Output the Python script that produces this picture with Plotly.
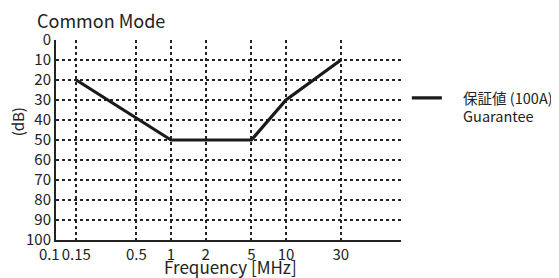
import plotly.graph_objects as go

freq_mhz = [0.15, 1, 5, 10, 30]
level_db = [20, 50, 50, 30, 10]
x_tickvals = [0.1, 0.15, 0.5, 1, 2, 5, 10, 30]
x_ticktext = ["0.1\u00a0\u00a0\u00a0\u00a0", "0.15", "0.5", "1", "2", "5", "10", "30"]
y_tickvals = [0, 10, 20, 30, 40, 50, 60, 70, 80, 90, 100]
series_name = "\u00a0\u00a0\u00a0\u00a0\u00a0保証値 (100A)<br>\u00a0\u00a0\u00a0\u00a0\u00a0Guarantee"
x_title = "Frequency [MHz]"
y_title = "(dB)"

FONT = "Noto Sans CJK JP"
W, H = 551, 270  # page body adds an 8px offset

fig = go.Figure()
fig.add_trace(go.Scatter(
    x=freq_mhz, y=level_db, mode="lines", name=series_name,
    line=dict(color="#1a1a1a", width=3.2), showlegend=True,
))

fig.update_layout(
    width=W, height=H,
    margin=dict(l=48, r=158, t=32, b=38, autoexpand=False),
    paper_bgcolor="white", plot_bgcolor="white",
    font=dict(family=FONT, size=15, color="#222"),
    title=dict(text="Common Mode", x=29/W, xanchor="left", y=1-13.5/H, yanchor="middle",
               font=dict(family=FONT, size=18, color="#222")),
    showlegend=True,
    legend=dict(x=1.017, y=0.79, xanchor="left", yanchor="top", valign="top",
                font=dict(family=FONT, size=14.5, color="#222"),
                bgcolor="rgba(0,0,0,0)"),
    annotations=[
        dict(text=x_title, xref="paper", yref="paper", x=0.507, y=-0.133,
             xanchor="center", yanchor="middle", showarrow=False,
             font=dict(family=FONT, size=17, color="#222")),
        dict(text=y_title, xref="paper", yref="paper", x=-0.112, y=0.59,
             xanchor="center", yanchor="middle", showarrow=False, textangle=-90,
             font=dict(family=FONT, size=15, color="#222")),
    ],
)
fig.update_xaxes(
    type="log", range=[-1, 2], automargin=False,
    tickvals=x_tickvals, ticktext=x_ticktext, ticks="", tickangle=0,
    showgrid=True, gridcolor="#222", griddash="dot", gridwidth=1.5,
    showline=True, linecolor="#222", linewidth=2,
    zeroline=False,
    tickfont=dict(family=FONT, size=15),
)
fig.update_yaxes(
    range=[100, 0], tickvals=y_tickvals, ticks="", automargin=False,
    showgrid=True, gridcolor="#222", griddash="dot", gridwidth=1.5,
    showline=True, linecolor="#222", linewidth=2,
    zeroline=False,
    tickfont=dict(family=FONT, size=15),
)

fig.write_html("out.html")
